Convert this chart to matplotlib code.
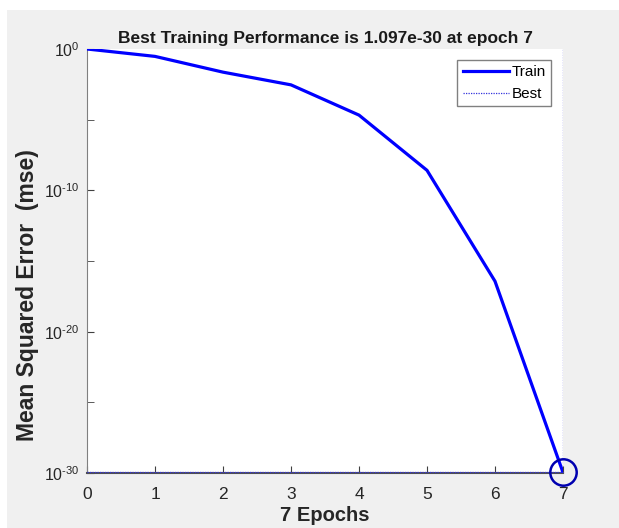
import matplotlib
matplotlib.use('Agg')
import matplotlib.pyplot as plt
from matplotlib.patches import Rectangle
from matplotlib.ticker import FixedLocator, NullFormatter, FuncFormatter
import numpy as np

plt.rcParams['font.family'] = ['Liberation Sans', 'DejaVu Sans']
plt.rcParams['mathtext.fontset'] = 'custom'
plt.rcParams['mathtext.rm'] = 'Liberation Sans'
plt.rcParams['axes.unicode_minus'] = False

# Training performance per epoch
epochs = [0, 1, 2, 3, 4, 5, 6, 7]
train_mse = [1.0, 0.3, 0.023, 0.0029, 2.1e-5, 2.6e-9, 3.7e-17, 1.097e-30]
best_epoch = 7
best_perf = 1.097e-30

fig = plt.figure(figsize=(6.19, 5.28), dpi=100, facecolor='white')
# grey MATLAB-style figure window
fig.patches.append(Rectangle((7 / 619, 0), 1, 1 - 10 / 528, transform=fig.transFigure,
                             facecolor='#f0f0f0', edgecolor='none', zorder=-10))

ax = fig.add_axes([87 / 619, 1 - 473 / 528, 476 / 619, 424 / 528])
ax.set_facecolor('white')

ax.plot(epochs, train_mse, color='#0000ff', lw=2.3, label='Train', zorder=3)
ax.axvline(best_epoch, color='#3333dd', lw=0.9, ls=(0, (1, 1)), label='Best', zorder=2)
ax.axhline(best_perf, color='#3333dd', lw=0.9, ls=(0, (1, 1)), zorder=4, clip_on=False)
ax.plot([best_epoch], [best_perf], 'o', ms=19, mfc='none', mec='#0000b0', mew=1.8,
        clip_on=False, zorder=5)

ax.set_yscale('log')
ax.set_xlim(0, 7)
ax.set_ylim(1e-30, 1.0)
ax.set_xticks(epochs)
ax.yaxis.set_major_locator(FixedLocator([1e-30, 1e-20, 1e-10, 1e0]))
ax.yaxis.set_major_formatter(FuncFormatter(
    lambda v, p: r'$10^{\text{%d}}$' % int(round(np.log10(v)))))
ax.yaxis.set_minor_locator(FixedLocator([1e-25, 1e-15, 1e-5]))
ax.yaxis.set_minor_formatter(NullFormatter())

for s in ['top', 'right']:
    ax.spines[s].set_visible(False)
ax.spines['left'].set_color('#808080')
ax.spines['bottom'].set_color('#505050')
ax.spines['bottom'].set_linewidth(1.5)
ax.tick_params(which='both', direction='in', length=5, color='#404040',
               labelcolor='#262626')
ax.tick_params(axis='x', pad=10, labelsize=12.5)
ax.tick_params(axis='y', pad=5, labelsize=11.5)

ax.set_title('Best Training Performance is 1.097e-30 at epoch 7', fontsize=12.5,
             fontweight='bold', color='#1a1a1a', pad=4)
ax.set_xlabel('7 Epochs', fontsize=14.5, fontweight='bold', color='#262626', labelpad=3)
ax.set_ylabel('Mean Squared Error  (mse)', fontsize=16.5, fontweight='bold', color='#262626')
ax.yaxis.set_label_coords(-0.1, 0.42)

leg = ax.legend(loc='upper right', bbox_to_anchor=(0.985, 0.985), fontsize=11,
                fancybox=False, edgecolor='#808080', framealpha=1, handlelength=3.0,
                handletextpad=0.2, borderpad=0.35, labelspacing=0.5, borderaxespad=0.3)
leg.get_frame().set_linewidth(1.0)

fig.savefig('out.png', dpi=100, facecolor=fig.get_facecolor())
